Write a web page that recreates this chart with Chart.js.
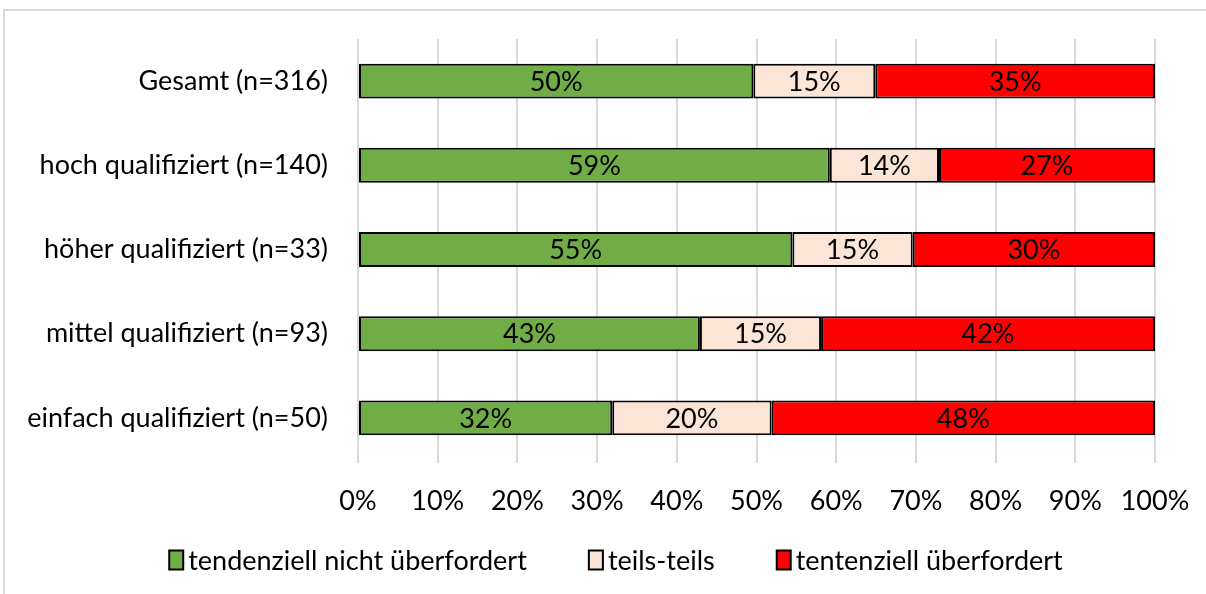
<!DOCTYPE html>
<html>
<head>
<meta charset="utf-8">
<script src="https://cdn.jsdelivr.net/npm/chart.js@4.4.1/dist/chart.umd.min.js"></script>
<style>
  html, body { margin: 0; padding: 0; background: #fff; }
  #wrap { position: absolute; left: 3px; top: 9px; width: 1203px; height: 585px;
          border-left: 2px solid #d9d9d9; border-top: 2px solid #d9d9d9; box-sizing: border-box; }
  #c { position: absolute; left: 0; top: 0; }
</style>
</head>
<body>
<div id="wrap"></div>
<canvas id="c" width="1206" height="594"></canvas>
<script>
const categories = ['Gesamt (n=316)', 'hoch qualifiziert (n=140)', 'höher qualifiziert (n=33)', 'mittel qualifiziert (n=93)', 'einfach qualifiziert (n=50)'];
const seriesNames = ['tendenziell nicht überfordert', 'teils-teils', 'tentenziell überfordert'];
const nichtUeberfordert = [49.6, 59.2, 54.5, 42.9, 31.9];
const teilsTeils = [15.3, 13.7, 15.1, 15.2, 20.0];
const ueberfordert = [35.1, 27.1, 30.4, 41.9, 48.1];
const xTicks = [0, 10, 20, 30, 40, 50, 60, 70, 80, 90, 100];

const FONT = 'Lato, "Open Sans", sans-serif';

const valueLabels = {
    id: 'valueLabels',
    afterDatasetsDraw(chart) {
        const ctx = chart.ctx;
        ctx.save();
        ctx.font = '27px ' + FONT;
        ctx.fillStyle = '#000';
        ctx.textAlign = 'center';
        ctx.textBaseline = 'middle';
        chart.data.datasets.forEach(function (ds, i) {
            chart.getDatasetMeta(i).data.forEach(function (bar, j) {
                const x = (bar.x + bar.base) / 2;
                ctx.fillText(Math.round(ds.data[j]) + '%', x, bar.y + 1);
            });
        });
        ctx.restore();
    }
};

// legend drawn by hand so it can sit closer to the axis like in Excel
const bottomLegend = {
    id: 'bottomLegend',
    afterDraw(chart) {
        const ctx = chart.ctx;
        const y = 560, box = 14, boxH = 19, gap = 5, itemGap = 62;
        ctx.save();
        ctx.font = '27px ' + FONT;
        ctx.textBaseline = 'middle';
        const items = chart.data.datasets.map(ds => ({ ds, w: ctx.measureText(ds.label).width }));
        const total = items.reduce((s, it) => s + box + gap + it.w, 0) + itemGap * (items.length - 1);
        let x = 616 - total / 2;
        items.forEach(function (it) {
            ctx.fillStyle = it.ds.backgroundColor;
            ctx.fillRect(x, y - boxH / 2, box, boxH);
            ctx.strokeStyle = '#000';
            ctx.lineWidth = 2;
            ctx.strokeRect(x, y - boxH / 2, box, boxH);
            ctx.fillStyle = '#000';
            ctx.fillText(it.ds.label, x + box + gap, y + 1);
            x += box + gap + it.w + itemGap;
        });
        ctx.restore();
    }
};

Chart.defaults.font.family = FONT;
Chart.defaults.font.size = 27;
Chart.defaults.color = '#000';

new Chart(document.getElementById('c').getContext('2d'), {
    type: 'bar',
    data: {
        labels: categories,
        datasets: [
            { label: seriesNames[0], data: nichtUeberfordert, backgroundColor: '#70AD47', borderColor: '#000', borderWidth: 2, borderSkipped: false },
            { label: seriesNames[1], data: teilsTeils, backgroundColor: '#FBE5D6', borderColor: '#000', borderWidth: 2, borderSkipped: false },
            { label: seriesNames[2], data: ueberfordert, backgroundColor: '#FF0000', borderColor: '#000', borderWidth: 2, borderSkipped: false }
        ]
    },
    options: {
        indexAxis: 'y',
        responsive: false,
        animation: false,
        layout: { padding: { top: 39, right: 51, left: 0, bottom: 74 } },
        datasets: { bar: { categoryPercentage: 0.83, barPercentage: 0.5 } },
        plugins: {
            legend: { display: false },
            tooltip: { enabled: false }
        },
        scales: {
            x: {
                stacked: true, min: 0, max: 100,
                afterBuildTicks(axis) { axis.ticks = xTicks.map(v => ({ value: v })); },
                afterFit(axis) { axis.height = 60; axis.paddingLeft = 0; axis.paddingRight = 0; },
                ticks: { callback: v => v + '%', padding: 22, maxRotation: 0 },
                grid: { color: '#d9d9d9', lineWidth: 2, tickLength: 3 },
                border: { display: false }
            },
            y: {
                stacked: true,
                afterFit(axis) { axis.width = 358; },
                ticks: { padding: 22 },
                grid: { display: false },
                border: { display: false }
            }
        }
    },
    plugins: [valueLabels, bottomLegend]
});
</script>
</body>
</html>
